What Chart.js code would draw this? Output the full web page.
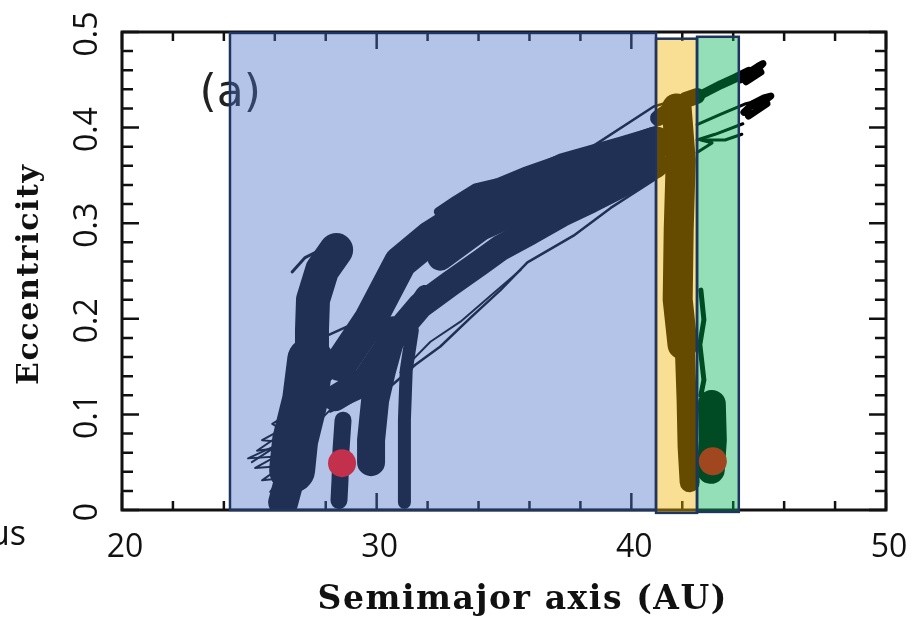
<!DOCTYPE html>
<html>
<head>
<meta charset="utf-8">
<script src="https://cdn.jsdelivr.net/npm/chart.js@4.4.1/dist/chart.umd.min.js"></script>
<style>
  html, body { margin: 0; padding: 0; background: #fff; }
  #wrap { width: 914px; height: 619px; position: relative; }
</style>
</head>
<body>
<div id="wrap"><canvas id="orbitChart"></canvas></div>
<script>
// axis ticks
const xTickValues = [20, 30, 40, 50];
const xTickLabels = ['20', '30', '40', '50'];
const yTickValues = [0, 0.1, 0.2, 0.3, 0.4, 0.5];
const yTickLabels = ['0', '0.1', '0.2', '0.3', '0.4', '0.5'];

// shaded zones: semimajor axis range and eccentricity range
const zoneStart = [24.24, 40.97, 42.58];
const zoneEnd = [40.97, 42.58, 44.22];
const zoneTop = [0.499, 0.493, 0.495];
const zoneBottom = [0, -0.003, -0.002];

// present positions [a, e]
const bodyA = [28.64, 0.049];
const bodyB = [43.2, 0.051];

// traced pieces of the trajectory [a, e]
const leftColumnTop = [[28.41,0.272],[27.86,0.251],[27.5,0.22],[27.46,0.188],[27.46,0.162]];
const leftColumnLow = [[27.39,0.157],[27.19,0.115],[26.8,0.073],[26.68,0.042]];
const leftColumnFoot = [[26.68,0.042],[26.45,0.02],[26.33,0.008]];
const leftFringe = [[26.6,0.089],[25.5,0.073],[26.33,0.071],[24.95,0.054],[26.05,0.056],[25.23,0.044],[26.29,0.046],[25.5,0.031],[26.21,0.033],[25.82,0.019]];
const leftFringe2 = [[26.8,0.105],[25.9,0.09],[26.4,0.082],[25.3,0.062],[25.9,0.064],[25.1,0.05]];
const leftHook = [[26.68,0.249],[27.19,0.264],[27.78,0.272]];
const redColumn = [[28.68,0.094],[28.6,0.063],[28.56,0.031],[28.52,0.01]];
const midColumn = [[30.64,0.188],[30.21,0.146],[29.94,0.115],[29.78,0.073],[29.78,0.05]];
const rightColumn = [[31.4,0.188],[31.16,0.146],[31.09,0.094],[31.09,0.052],[31.09,0.008]];
const junction = [[30.85,0.183],[31.91,0.225]];
const bandUpper = [[28.57,0.152],[29.75,0.199],[30.93,0.259],[32.11,0.285],[33.29,0.305],[34.86,0.33],[36.04,0.343],[37.22,0.354],[38.4,0.363],[39.58,0.371],[40.96,0.384]];
const bandLower = [[28.37,0.117],[29.55,0.136],[30.73,0.183],[31.72,0.214],[32.9,0.237],[34.08,0.259],[34.86,0.274],[36.04,0.291],[37.22,0.309],[38.4,0.324],[39.58,0.34],[40.96,0.361]];
const bandMiddle = [[32.5,0.264],[34.08,0.295],[35.65,0.314],[37.22,0.332],[38.8,0.347],[40.37,0.366]];
const bandFringe = [[32.42,0.312],[33.09,0.324],[33.88,0.337],[34.67,0.342],[35.33,0.338],[36.24,0.356],[37.22,0.368],[38.4,0.377],[39.58,0.386],[40.96,0.397]];
const topStrand = [[38.28,0.377],[40.88,0.422],[41.9,0.43]];
const lowerEnvelope = [[28.17,0.103],[29.35,0.117],[30.62,0.131],[31.52,0.152],[32.5,0.171],[33.68,0.201],[34.86,0.23],[35.92,0.259],[37.73,0.287],[39.19,0.316],[40.88,0.345]];
const lowerEnvelope2 = [[30.93,0.144],[32.11,0.176],[33.29,0.197],[34.47,0.224],[35.65,0.251]];
const upperStrand = [[27.86,0.18],[28.77,0.191],[29.28,0.197],[29.59,0.214],[30.34,0.22],[30.93,0.235],[31.52,0.256]];
const innerStrandA = [[27.78,0.094],[28.96,0.126],[30.34,0.167]];
const innerStrandB = [[28.17,0.136],[29.16,0.162],[30.15,0.183]];
const yellowTop = [[41.05,0.41],[41.6,0.42],[42.15,0.429],[42.58,0.433]];
const yellowUpper = [[41.78,0.42],[41.94,0.366],[41.86,0.293],[41.82,0.22],[42.01,0.173]];
const yellowLower = [[42.09,0.178],[42.17,0.115],[42.21,0.066],[42.29,0.029]];
const greenBlob = [[43.16,0.111],[43.2,0.073],[43.12,0.042]];
const greenEdge = [[42.73,0.23],[42.85,0.199],[42.69,0.173],[42.85,0.136],[42.73,0.12]];
const trackTop = [[42.34,0.429],[42.93,0.437],[43.52,0.445],[44.1,0.452],[44.62,0.459]];
const knotTop = [[44.3,0.45],[44.62,0.458],[44.97,0.464],[45.17,0.467],[44.7,0.454],[45.09,0.458],[44.5,0.448]];
const trackMid = [[42.58,0.403],[43.52,0.414],[44.5,0.425],[45.09,0.429]];
const knotMid = [[44.42,0.416],[44.77,0.425],[45.21,0.431],[45.48,0.433],[44.89,0.421],[45.33,0.425],[44.6,0.412]];
const trackLow = [[42.58,0.387],[43.29,0.393],[44.38,0.404]];
const trackLoop = [[42.58,0.374],[43.17,0.384],[42.73,0.387],[43.68,0.387],[44.34,0.393]];

const zoneFill = ['rgba(74,114,200,0.42)', 'rgba(238,179,0,0.42)', 'rgba(0,179,83,0.42)'];
const zoneEdge = '#1f3560';

function track(points, width) {
    return {
        type: 'line',
        data: points.map(p => ({ x: p[0], y: p[1] })),
        showLine: true,
        borderColor: '#000',
        backgroundColor: '#000',
        borderWidth: width,
        borderJoinStyle: 'round',
        borderCapStyle: 'round',
        pointRadius: 0,
        tension: 0,
        fill: false,
        order: 1
    };
}

const datasets = [
    {
        type: 'scatter',
        label: 'now',
        data: [{ x: bodyA[0], y: bodyA[1] }, { x: bodyB[0], y: bodyB[1] }],
        pointRadius: 14,
        pointBorderWidth: 0,
        pointBackgroundColor: ['#c2304b', '#a0471f'],
        order: 0
    },
    track(leftColumnLow, 46),
    track(leftColumnFoot, 30),
    track(leftColumnTop, 34),
    track(leftFringe, 2),
    track(leftFringe2, 2),
    track(leftHook, 3),
    track(redColumn, 17),
    track(midColumn, 28),
    track(rightColumn, 13),
    track(junction, 20),
    track(bandUpper, 33),
    track(bandLower, 26),
    track(bandMiddle, 26),
    track(bandFringe, 9),
    track(topStrand, 2.5),
    track(lowerEnvelope, 2.5),
    track(lowerEnvelope2, 2),
    track(upperStrand, 2.5),
    track(innerStrandA, 2),
    track(innerStrandB, 2),
    track(yellowTop, 16),
    track(yellowUpper, 30),
    track(yellowLower, 20),
    track(greenBlob, 28),
    track(greenEdge, 5),
    track(trackTop, 9),
    track(knotTop, 7),
    track(trackMid, 3),
    track(knotMid, 7),
    track(trackLow, 3),
    track(trackLoop, 3)
];

// draw text at a set size, spread out to span a given width
function spreadText(ctx, text, font, width) {
    ctx.font = font;
    ctx.letterSpacing = '0px';
    const w = ctx.measureText(text).width;
    const gap = Math.max(0, (width - w) / (text.length - 1));
    ctx.letterSpacing = gap.toFixed(2) + 'px';
    ctx.fillText(text, gap / 2, 0);
    ctx.letterSpacing = '0px';
}

// frame, inward ticks, panel letter (drawn under the shaded zones)
const framePlugin = {
    id: 'frame',
    beforeDatasetsDraw(chart) {
        const { ctx, chartArea: a, scales: { x, y } } = chart;
        ctx.save();
        ctx.strokeStyle = '#111';
        ctx.lineWidth = 2.5;
        for (let v = 20; v <= 50.001; v += 2) {
            const px = x.getPixelForValue(v);
            const len = Math.abs(v % 10) < 0.01 ? 17 : 9;
            ctx.beginPath();
            ctx.moveTo(px, a.bottom); ctx.lineTo(px, a.bottom - len);
            ctx.moveTo(px, a.top); ctx.lineTo(px, a.top + len);
            ctx.stroke();
        }
        for (let i = 0; i <= 25; i++) {
            const py = y.getPixelForValue(i * 0.02);
            const len = i % 5 === 0 ? 17 : 11;
            ctx.beginPath();
            ctx.moveTo(a.left, py); ctx.lineTo(a.left + len, py);
            ctx.moveTo(a.right, py); ctx.lineTo(a.right - len, py);
            ctx.stroke();
        }
        ctx.lineWidth = 3;
        ctx.strokeRect(a.left, a.top, a.right - a.left, a.bottom - a.top);

        ctx.fillStyle = '#222';
        ctx.font = '44px "DejaVu Sans"';
        ctx.textAlign = 'center';
        ctx.textBaseline = 'middle';
        ctx.fillText('(a)', x.getPixelForValue(24.25), y.getPixelForValue(0.435));
        ctx.restore();
    },
    beforeDatasetDraw(chart, args) {
        if (args.index !== 0) return;
        const { ctx, scales: { x, y } } = chart;
        ctx.save();
        for (let i = 0; i < zoneStart.length; i++) {
            const l = x.getPixelForValue(zoneStart[i]);
            const r = x.getPixelForValue(zoneEnd[i]);
            const t = y.getPixelForValue(zoneTop[i]);
            const b = y.getPixelForValue(zoneBottom[i]);
            ctx.fillStyle = zoneFill[i];
            ctx.fillRect(l, t, r - l, b - t);
            ctx.strokeStyle = zoneEdge;
            ctx.lineWidth = 2.5;
            ctx.strokeRect(l, t, r - l, b - t);
        }
        ctx.restore();
    },
    afterDraw(chart) {
        const { ctx, chartArea: a, scales: { x, y } } = chart;
        ctx.save();
        ctx.fillStyle = '#111';
        ctx.textAlign = 'center';
        ctx.textBaseline = 'middle';
        ctx.font = '32px "Open Sans"';
        xTickValues.forEach((v, i) => {
            ctx.fillText(xTickLabels[i], x.getPixelForValue(v) + 3, a.bottom + 38);
        });
        yTickValues.forEach((v, i) => {
            ctx.save();
            ctx.translate(a.left - 34, y.getPixelForValue(v) + 2);
            ctx.rotate(-Math.PI / 2);
            ctx.fillText(yTickLabels[i], 0, 0);
            ctx.restore();
        });

        ctx.save();
        ctx.translate(522, a.bottom + 90);
        spreadText(ctx, 'Semimajor axis (AU)', 'bold 33px "DejaVu Serif"', 409);
        ctx.restore();

        ctx.save();
        ctx.translate(30, 275);
        ctx.rotate(-Math.PI / 2);
        spreadText(ctx, 'Eccentricity', 'bold 30px "DejaVu Serif"', 220);
        ctx.restore();

        ctx.textAlign = 'right';
        ctx.textBaseline = 'alphabetic';
        ctx.font = '34px "Open Sans"';
        ctx.fillText('us', 26, 545);
        ctx.restore();
    }
};

new Chart(document.getElementById('orbitChart'), {
    type: 'scatter',
    data: { datasets: datasets },
    options: {
        responsive: true,
        maintainAspectRatio: false,
        animation: false,
        layout: { padding: { left: 122, right: 28, top: 32, bottom: 109 } },
        scales: {
            x: { type: 'linear', min: 20, max: 50, display: false },
            y: { type: 'linear', min: 0, max: 0.5, display: false }
        },
        plugins: {
            legend: { display: false },
            tooltip: { enabled: false }
        }
    },
    plugins: [framePlugin]
});
</script>
</body>
</html>
